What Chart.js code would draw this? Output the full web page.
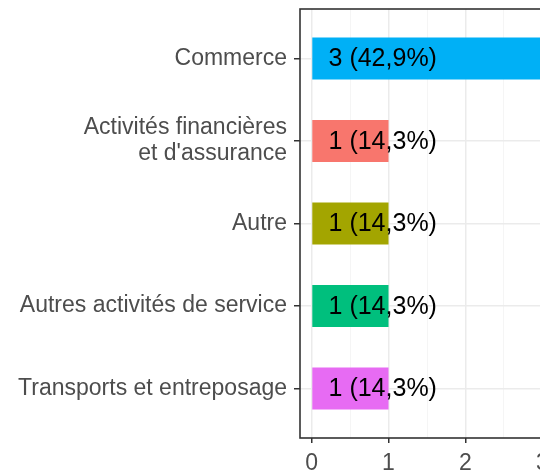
<!DOCTYPE html>
<html>
<head>
<meta charset="utf-8">
<script src="https://cdn.jsdelivr.net/npm/chart.js@4.4.1/dist/chart.umd.min.js"></script>
<style>
html, body { margin: 0; padding: 0; background: #fff; overflow: hidden; width: 540px; height: 472px; }
canvas { display: block; }
</style>
</head>
<body>
<canvas id="myChart" width="562" height="472"></canvas>
<script>
// data, top to bottom
var categories = ['Commerce', ['Activités financières', "et d'assurance"], 'Autre', 'Autres activités de service', 'Transports et entreposage'];
var counts = [3, 1, 1, 1, 1];
var valueLabels = ['3 (42,9%)', '1 (14,3%)', '1 (14,3%)', '1 (14,3%)', '1 (14,3%)'];
var barColors = ['#00B0F6', '#F8766D', '#A3A500', '#00BF7D', '#E76BF3'];
var xTicks = [0, 1, 2, 3];
var xTickLabels = ['0', '1', '2', '3'];
var xMinorTicks = [0.5, 1.5, 2.5];

var fontFamily = '"Liberation Sans", Arial, Helvetica, sans-serif';
var ctx = document.getElementById('myChart').getContext('2d');

var panelBorder = {
    id: 'panelBorder',
    afterDraw: function(chart) {
        var a = chart.chartArea;
        var c = chart.ctx;
        c.save();
        c.strokeStyle = '#333333';
        c.lineWidth = 1.6;
        c.strokeRect(a.left, a.top, a.right - a.left, a.bottom - a.top);
        c.restore();
    }
};

var barText = {
    id: 'barText',
    afterDatasetsDraw: function(chart) {
        var c = chart.ctx;
        var xs = chart.scales.x;
        var ys = chart.scales.y;
        c.save();
        c.font = '25px ' + fontFamily;
        c.fillStyle = '#000000';
        c.textAlign = 'left';
        c.textBaseline = 'middle';
        valueLabels.forEach(function(txt, i) {
            c.fillText(txt, xs.getPixelForValue(0) + 17, ys.getPixelForValue(i) + 1);
        });
        c.restore();
    }
};

function isMajor(v) {
    return xTicks.indexOf(v) !== -1;
}

var chart = new Chart(ctx, {
    type: 'bar',
    data: {
        datasets: [{
            data: counts.map(function(v, i) { return { x: v, y: i }; }),
            backgroundColor: barColors,
            borderWidth: 0,
            barPercentage: 0.51,
            categoryPercentage: 1
        }]
    },
    options: {
        indexAxis: 'y',
        responsive: false,
        animation: false,
        layout: { padding: { top: 9, right: 8, left: 0, bottom: 0 } },
        plugins: {
            legend: { display: false },
            tooltip: { enabled: false }
        },
        scales: {
            x: {
                type: 'linear',
                position: 'bottom',
                min: -0.15,
                max: 3.15,
                afterBuildTicks: function(scale) {
                    scale.ticks = xTicks.concat(xMinorTicks).sort().map(function(v) { return { value: v }; });
                },
                afterFit: function(scale) { scale.height = 34; },
                border: { display: false },
                grid: {
                    color: function(c) { return isMajor(c.tick.value) ? '#ebebeb' : '#f3f3f3'; },
                    lineWidth: function(c) { return isMajor(c.tick.value) ? 1.5 : 0.8; },
                    tickColor: function(c) { return isMajor(c.tick.value) ? '#333333' : 'rgba(0,0,0,0)'; },
                    tickLength: 5,
                    tickWidth: 1.5
                },
                ticks: {
                    autoSkip: false,
                    maxRotation: 0,
                    padding: 7,
                    color: '#4d4d4d',
                    font: { family: fontFamily, size: 23 },
                    callback: function(v) {
                        var k = xTicks.indexOf(v);
                        return k === -1 ? '' : xTickLabels[k];
                    }
                }
            },
            y: {
                type: 'linear',
                reverse: true,
                offset: false,
                min: -0.6,
                max: categories.length - 0.4,
                afterBuildTicks: function(scale) {
                    scale.ticks = categories.map(function(c, i) { return { value: i }; });
                },
                afterFit: function(scale) {
                    scale.width = 300;
                    scale.paddingTop = 0;
                    scale.paddingBottom = 0;
                },
                border: { display: false },
                grid: {
                    offset: false,
                    color: '#ebebeb',
                    lineWidth: 1.5,
                    tickColor: '#333333',
                    tickLength: 6,
                    tickWidth: 1.5
                },
                ticks: {
                    autoSkip: false,
                    padding: 7,
                    color: '#4d4d4d',
                    font: { family: fontFamily, size: 23, lineHeight: 1.13 },
                    callback: function(v) { return categories[v]; }
                }
            }
        }
    },
    plugins: [panelBorder, barText]
});
</script>
</body>
</html>
